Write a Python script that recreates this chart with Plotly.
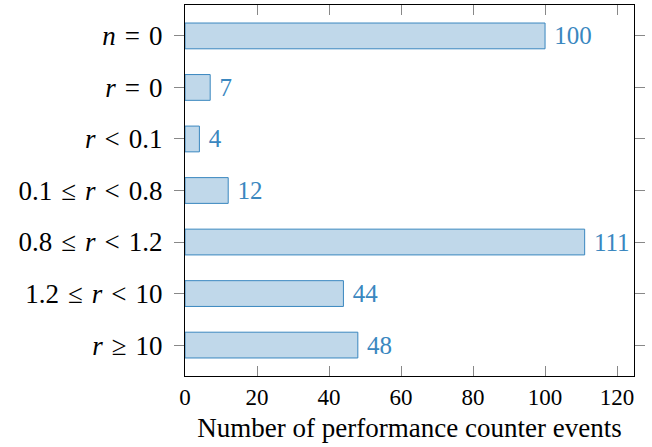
import plotly.graph_objects as go

S = "\u2004"  # three-per-em space, close to TeX math relation spacing
categories = [f"<i>n</i>{S}={S}0", f"<i>r</i>{S}={S}0", f"<i>r</i>{S}<{S}0.1",
              f"0.1{S}≤{S}<i>r</i>{S}<{S}0.8", f"0.8{S}≤{S}<i>r</i>{S}<{S}1.2",
              f"1.2{S}≤{S}<i>r</i>{S}<{S}10", f"<i>r</i>{S}≥{S}10"]
values = [100, 7, 4, 12, 111, 44, 48]
x_ticks = [0, 20, 40, 60, 80, 100, 120]

FONT = "Liberation Serif"
fig = go.Figure(go.Bar(
    y=list(range(len(categories))), x=values, orientation="h", width=0.5,
    marker=dict(color="rgb(192,216,234)", line=dict(color="#3a87bf", width=1)),
    text=values, texttemplate="\u00a0%{x}", textposition="outside",
    textfont=dict(family=FONT, size=25, color="#3a87bf"),
    cliponaxis=False, constraintext="none",
))
fig.update_layout(
    width=652, height=447, margin=dict(l=185, r=18, t=5, b=71),
    plot_bgcolor="white", paper_bgcolor="white", showlegend=False,
    font=dict(family=FONT, size=23, color="black"),
)
fig.update_xaxes(range=[0, 124.7], tickvals=x_ticks, ticks="inside", ticklen=10,
                 tickcolor="#888", showline=True, linecolor="black", linewidth=1,
                 mirror="allticks", showgrid=False, zeroline=False, automargin=False,
                 tickfont=dict(family=FONT, size=23, color="black"),
                 title=dict(text="Number of performance counter events", standoff=9,
                            font=dict(family=FONT, size=27, color="black")))
fig.update_yaxes(range=[6.6, -0.6], tickvals=list(range(len(categories))),
                 ticktext=categories, ticks="outside", ticklen=10, tickcolor="#888",
                 showline=True, linecolor="black", linewidth=1, mirror="allticks",
                 showgrid=False, zeroline=False, ticklabelstandoff=6, automargin=False,
                 tickfont=dict(family=FONT, size=27, color="black"))
fig.write_html("out.html", config={"displayModeBar": False},
               post_script="document.body.style.margin='0';")
